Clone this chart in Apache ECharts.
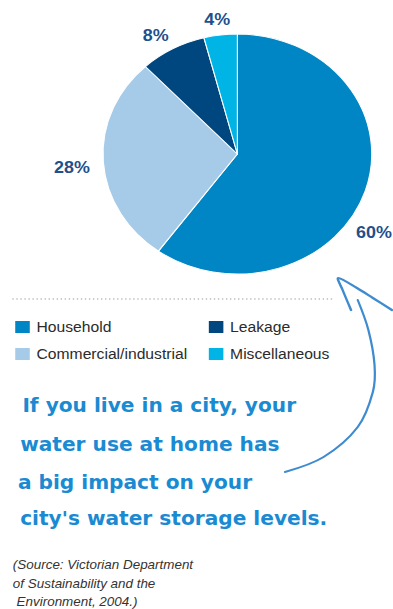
<!DOCTYPE html>
<html>
<head>
<meta charset="utf-8">
<script src="https://cdn.jsdelivr.net/npm/echarts@6/dist/echarts.min.js"></script>
<style>
html, body { margin: 0; padding: 0; background: #fff; overflow: hidden; }
/* the source picture is stretched sideways, so draw narrow and widen */
#chart { width: 351px; height: 609px; transform: scaleX(1.1197); transform-origin: 0 0; }
</style>
</head>
<body>
<div id="chart"></div>
<script>
// where Victoria's city water goes
var categories = ['Household', 'Commercial/industrial', 'Leakage', 'Miscellaneous'];
var shares = [60, 28, 8, 4];
var noteLines = ['If you live in a city, your', 'water use at home has', 'a big impact on your', "city's water storage levels."];
var sourceLines = ['(Source: Victorian Department', 'of Sustainability and the', ' Environment, 2004.)'];

var colors = ['#0086c5', '#a6cbe8', '#00467f', '#00b4e6'];
// small nudges for the % labels
var labelNudge = [[-14, 35], [-5, 5], [-4, 7], [0, 8]];
var center = [212, 154];

var chart = echarts.init(document.getElementById('chart'), null, { renderer: 'svg' });

var pieData = categories.map(function (name, i) {
    return { name: name, value: shares[i], itemStyle: { color: colors[i] } };
});
var labelData = categories.map(function (name, i) {
    return { name: name, value: shares[i], label: { offset: labelNudge[i] } };
});

var legendText = { color: '#2b2b2b', fontSize: 14, fontFamily: 'Liberation Sans, Arial, sans-serif' };

var graphics = [
    {
        type: 'line',
        shape: { x1: 11, y1: 299, x2: 299, y2: 299 },
        style: { stroke: '#9a9a9a', lineWidth: 1.2, lineDash: [1.2, 2.4] }
    },
    {
        // hand drawn arrow pointing back at the household slice
        type: 'polyline',
        shape: {
            points: [[319.5, 300], [329, 330], [334.5, 365], [333, 392], [319.5, 427], [289, 457], [254.5, 472]],
            smooth: 0.35
        },
        style: { stroke: '#3f8bd0', lineWidth: 2, fill: null, lineCap: 'round' }
    },
    {
        type: 'polyline',
        shape: {
            points: [[313.5, 310], [306, 290], [302, 278], [318.8, 288], [333, 298], [350, 310]],
            smooth: 0.3
        },
        style: { stroke: '#3f8bd0', lineWidth: 2.2, fill: null, lineCap: 'round', lineJoin: 'round' }
    }
];

var noteY = [405, 444, 482, 518];
var noteX = [20, 18, 16, 18];
noteLines.forEach(function (t, i) {
    graphics.push({
        type: 'text',
        style: {
            text: t, x: noteX[i], y: noteY[i], verticalAlign: 'middle',
            fill: '#1a8ad2', fontSize: 20, fontWeight: 'bold',
            fontFamily: 'DejaVu Sans Condensed, DejaVu Sans, sans-serif'
        }
    });
});
sourceLines.forEach(function (t, i) {
    graphics.push({
        type: 'text',
        style: {
            text: t, x: 11.5, y: 565 + i * 18.5, verticalAlign: 'middle',
            fill: '#333', fontSize: 12, fontStyle: 'italic',
            fontFamily: 'Liberation Sans, Arial, sans-serif'
        }
    });
});

chart.setOption({
    animation: false,
    legend: [
        {
            orient: 'vertical', left: 11.6, top: 319, padding: 0,
            icon: 'rect', itemWidth: 15, itemHeight: 14, itemGap: 11,
            selectedMode: false, textStyle: legendText,
            data: ['Household', 'Commercial/industrial']
        },
        {
            orient: 'vertical', left: 184.5, top: 319, padding: 0,
            icon: 'rect', itemWidth: 15, itemHeight: 14, itemGap: 11,
            selectedMode: false, textStyle: legendText,
            data: ['Leakage', 'Miscellaneous']
        }
    ],
    series: [
        {
            type: 'pie',
            center: center,
            radius: 120,
            startAngle: 90,
            clockwise: true,
            silent: true,
            label: { show: false },
            labelLine: { show: false },
            itemStyle: { borderColor: '#fff', borderWidth: 1 },
            data: pieData
        },
        {
            // empty ring, only to hold the % labels around the pie
            type: 'pie',
            center: center,
            radius: [128, 152],
            startAngle: 90,
            clockwise: true,
            silent: true,
            itemStyle: { color: 'rgba(0,0,0,0)' },
            label: {
                show: true, position: 'inside', formatter: '{c}%',
                color: '#1f4f8c', fontSize: 16, fontWeight: 'bold',
                fontFamily: 'Liberation Sans, Arial, sans-serif'
            },
            labelLine: { show: false },
            data: labelData
        }
    ],
    graphic: graphics
});
</script>
</body>
</html>
